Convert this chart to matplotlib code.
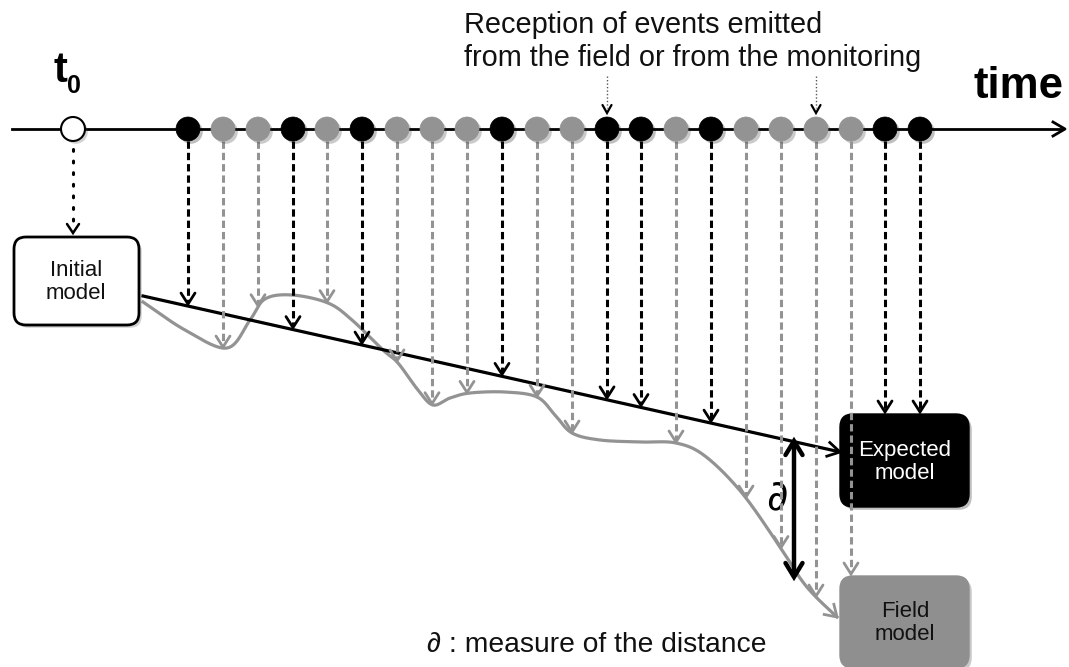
import numpy as np
import matplotlib
matplotlib.use("Agg")
import matplotlib.pyplot as plt
from matplotlib.patches import Circle, FancyBboxPatch
import matplotlib.patheffects as pe

plt.rcParams['font.family'] = ['Liberation Sans', 'DejaVu Sans']

# ---- data (pixel-space diagram) ----
event_x = [188, 223, 258, 293, 327, 362, 397, 432, 467, 502, 537, 572,
           607, 641, 676, 711, 746, 781, 816, 851, 885, 920]
event_kind = ['B', 'G', 'G', 'B', 'G', 'B', 'G', 'G', 'G', 'B', 'G', 'G',
              'B', 'B', 'G', 'B', 'G', 'G', 'G', 'G', 'B', 'B']
event_target = ['line'] * 19 + ['field', 'expected', 'expected']
event_target = [('curve' if k == 'G' else 'line') if t == 'line' else t
                for k, t in zip(event_kind, event_target)]
labelled_events = [607, 816]

curve_x = [143, 185, 227, 250, 265, 292, 328, 352, 383, 398, 418, 433, 450,
           470, 505, 537, 555, 572, 600, 640, 676, 705, 742, 780, 800, 815, 837]
curve_y = [302, 330, 348, 320, 299, 295, 303, 320, 350, 363, 390, 405, 398,
           393, 392, 397, 415, 433, 440, 442, 443, 456, 493, 547, 578, 596, 617]

line_start = (143, 296)
line_end = (840, 452)

caption_lines = ['Reception of events emitted', 'from the field or from the monitoring']

BLACK = '#000000'
GREY = '#939393'
GREY_BOX = '#8f8f8f'
TL_Y = 129
R = 12

fig = plt.figure(figsize=(10.69, 6.67), dpi=100)
ax = fig.add_axes([0, 0, 1, 1])
ax.set_xlim(0, 1069)
ax.set_ylim(667, 0)
ax.axis('off')


def vhead(x, y, color, lw=2.0, w=6.5, h=10, z=5, up=False):
    s = -1 if up else 1
    ax.plot([x - w, x, x + w], [y - s * h, y, y - s * h], color=color, lw=lw,
            solid_capstyle='round', solid_joinstyle='miter', zorder=z)


def head(x, y, dx, dy, color, lw=2.0, w=7, h=11, z=5):
    d = np.array([dx, dy], float)
    d /= np.hypot(*d)
    n = np.array([-d[1], d[0]])
    p = np.array([x, y])
    a = p - d * h + n * w
    b = p - d * h - n * w
    ax.plot([a[0], x, b[0]], [a[1], y, b[1]], color=color, lw=lw, zorder=z)


def catmull(xs, ys, n=30):
    P = np.column_stack([xs, ys]).astype(float)
    P = np.vstack([P[0] * 2 - P[1], P, P[-1] * 2 - P[-2]])
    out = []
    for i in range(1, len(P) - 2):
        p0, p1, p2, p3 = P[i - 1], P[i], P[i + 1], P[i + 2]
        t = np.linspace(0, 1, n, endpoint=False)[:, None]
        pts = 0.5 * ((2 * p1) + (-p0 + p2) * t + (2 * p0 - 5 * p1 + 4 * p2 - p3) * t ** 2
                     + (-p0 + 3 * p1 - 3 * p2 + p3) * t ** 3)
        out.append(pts)
    out.append(P[-2][None, :])
    return np.vstack(out)


# timeline
ax.plot([12, 1062], [TL_Y, TL_Y], color=BLACK, lw=2.0, zorder=2)
head(1065, TL_Y, 1, 0, BLACK, lw=2.0, w=7, h=12, z=2)

# boxes
shadow = [pe.SimplePatchShadow(offset=(2, -2), alpha=0.25), pe.Normal()]
init_box = FancyBboxPatch((14, 237), 125, 88, boxstyle='round,pad=0,rounding_size=12',
                          fc='white', ec=BLACK, lw=2.0, zorder=6, path_effects=shadow)
ax.add_patch(init_box)
ax.text(76, 282, 'Initial\nmodel', ha='center', va='center', fontsize=16,
        linespacing=1.15, zorder=7, color='#111111')

exp_box = FancyBboxPatch((840, 414), 129, 93, boxstyle='round,pad=0,rounding_size=13',
                         fc=BLACK, ec=BLACK, lw=1.0, zorder=3, path_effects=shadow)
ax.add_patch(exp_box)
ax.text(905, 462, 'Expected\nmodel', ha='center', va='center', fontsize=16,
        color='white', linespacing=1.15, zorder=7)

field_box = FancyBboxPatch((840, 576), 129, 92, boxstyle='round,pad=0,rounding_size=13',
                           fc=GREY_BOX, ec=GREY_BOX, lw=1.0, zorder=3, path_effects=shadow)
ax.add_patch(field_box)
ax.text(905, 623, 'Field\nmodel', ha='center', va='center', fontsize=16,
        color='#111111', linespacing=1.15, zorder=7)

# expected (straight) line
ax.plot([line_start[0], line_end[0] - 2], [line_start[1], line_end[1] - 0.5],
        color=BLACK, lw=2.3, zorder=4)
head(line_end[0], line_end[1], line_end[0] - line_start[0], line_end[1] - line_start[1],
     BLACK, lw=2.0, w=7, h=12)

# field (grey) curve
C = catmull(curve_x, curve_y)
ax.plot(C[:, 0], C[:, 1], color=GREY, lw=2.3, zorder=3)
head(curve_x[-1], curve_y[-1], curve_x[-1] - curve_x[-2], curve_y[-1] - curve_y[-2],
     GREY, lw=2.0, w=7, h=11)

slope = (line_end[1] - line_start[1]) / (line_end[0] - line_start[0])

# events and dashed arrows
for x, k, tgt in zip(event_x, event_kind, event_target):
    col = BLACK if k == 'B' else GREY
    if tgt == 'line':
        yend = line_start[1] + slope * (x - line_start[0]) - 2
    elif tgt == 'curve':
        yend = np.interp(x, C[:, 0], C[:, 1]) - 1
    elif tgt == 'expected':
        yend = 412
    else:
        yend = 574
    z = 8 if tgt == 'field' else 5
    ax.plot([x, x], [TL_Y + R, yend - 2], color=col, lw=2.2,
            dashes=(2.4, 1.3), zorder=z)
    vhead(x, yend, col, lw=2.0, w=7, h=11, z=z)
    ax.add_patch(Circle((x, TL_Y), R, fc=col, ec=col, lw=0.5, zorder=6,
                        path_effects=shadow))

# t0 circle and dotted arrow to initial model
ax.add_patch(Circle((73, TL_Y), R, fc='white', ec=BLACK, lw=1.5, zorder=6,
                    path_effects=shadow))
ax.plot([73, 73], [TL_Y + R + 8, 230], color=BLACK, lw=2.2, dashes=(0.6, 3.2),
        dash_capstyle='round', zorder=5)
vhead(73, 233, BLACK, lw=1.8, w=6, h=9)

# annotation text and dotted pointers
ax.text(464, 33, caption_lines[0], ha='left', va='baseline', fontsize=20.8, color='#111111')
ax.text(464, 66, caption_lines[1], ha='left', va='baseline', fontsize=20.8, color='#111111')
for x in labelled_events:
    ax.plot([x, x], [76, 108], color='#555555', lw=1.0, dashes=(1, 1.5), zorder=5)
    vhead(x, 113, BLACK, lw=1.6, w=4.5, h=8)

# labels
ax.text(53, 82, 't', ha='left', va='baseline', fontsize=30, fontweight='bold')
ax.text(67, 93, '0', ha='left', va='baseline', fontsize=18, fontweight='bold')
ax.text(1064, 98, 'time', ha='right', va='baseline', fontsize=31.5, fontweight='bold')

# distance arrow
ax.plot([794, 794], [443, 574], color=BLACK, lw=3.2, zorder=7)
vhead(794, 441, BLACK, lw=3.2, w=8.5, h=14, z=7, up=True)
vhead(794, 577, BLACK, lw=3.2, w=8.5, h=14, z=7)
ax.text(777, 497, '∂', ha='center', va='center', fontsize=30, family='DejaVu Sans')

ax.text(427, 645, '∂ : measure of the distance', ha='left', va='center', fontsize=20.3,
        color='#111111')

fig.savefig('out.png', dpi=100)
